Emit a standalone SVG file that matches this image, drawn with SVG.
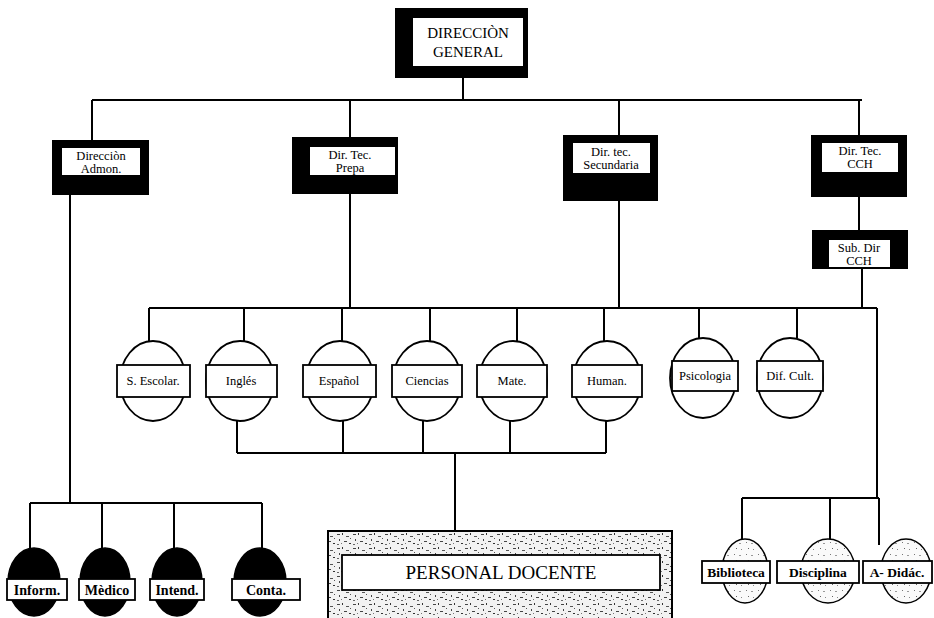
<svg xmlns="http://www.w3.org/2000/svg" width="934" height="618" viewBox="0 0 934 618">
<defs>
<pattern id="stip" width="16" height="14" patternUnits="userSpaceOnUse">
<rect width="16" height="14" fill="#f2f2f2"/>
<rect x="1" y="2" width="3" height="1" fill="#444"/>
<rect x="6" y="1" width="1" height="2" fill="#333"/>
<rect x="10" y="4" width="3" height="1" fill="#555"/>
<rect x="3" y="7" width="1" height="2" fill="#444"/>
<rect x="8" y="9" width="3" height="1" fill="#444"/>
<rect x="13" y="11" width="2" height="1" fill="#333"/>
<rect x="1" y="12" width="2" height="1" fill="#666"/>
<rect x="5" y="11" width="1" height="1" fill="#777"/>
<rect x="14" y="6" width="1" height="1" fill="#555"/>
</pattern>
<pattern id="stip2" width="12" height="12" patternUnits="userSpaceOnUse">
<rect width="12" height="12" fill="#fafafa"/>
<rect x="2" y="2" width="1" height="1" fill="#777"/>
<rect x="7" y="3" width="2" height="1" fill="#999"/>
<rect x="4" y="8" width="1" height="1" fill="#666"/>
<rect x="9" y="9" width="1" height="1" fill="#888"/>
</pattern>
</defs>
<style>
.ln{fill:none;stroke:#000;stroke-width:2}
.ob{fill:#000}
.ib{fill:#fff}
.t{font-family:"Liberation Serif","Times New Roman",serif;fill:#000;text-anchor:middle}
.s{font-size:12.5px}
.m{font-size:12.5px}
.b{font-size:14px;font-weight:bold}
.br{font-size:13.5px;font-weight:bold}
.ec{fill:#fff;stroke:#000;stroke-width:1.8}
.eb{fill:#000;stroke:#000;stroke-width:1.5}
.es{fill:url(#stip2);stroke:#000;stroke-width:1.5}
.rb{fill:#fff;stroke:#000;stroke-width:1.8}
</style>

<g id="connectors">
<path class="ln" d="M463 78V100M92 100H862M92 100V140M350 100V137M619 100V135M859 100V135"/>
<path class="ln" d="M859 197V230M862 269V308M350 194V308M619 201V308M149 308H877"/>
<path class="ln" d="M149 308V341M244 308V341M342 308V341M430 308V341M517 308V341M604 308V341M699 308V338M797 308V338"/>
<path class="ln" d="M237 421V453M343 421V453M423 421V453M510 421V453M606 421V453M237 453H606M455 453V531"/>
<path class="ln" d="M70 195V503M30 503H262M30 503V549M102 503V549M174 503V549M262 503V549"/>
<path class="ln" d="M877 308V498M742 498H879M742 498V540M830 498V540M879 498V545"/>
</g>

<g id="direccion-general">
<rect class="ob" x="395" y="8" width="133" height="70"/>
<rect class="ib" x="413" y="18" width="110" height="48"/>
<text class="t" x="468" y="38" font-size="15">DIRECCIÒN</text>
<text class="t" x="468" y="57" font-size="15">GENERAL</text>
</g>

<g id="direccion-admon">
<rect class="ob" x="52" y="140" width="97" height="55"/>
<rect class="ib" x="62" y="148" width="78" height="27"/>
<text class="t s" x="101" y="160">Direcciòn</text>
<text class="t s" x="101" y="173">Admon.</text>
</g>

<g id="dir-tec-prepa">
<rect class="ob" x="292" y="137" width="106" height="57"/>
<rect class="ib" x="310" y="147" width="85" height="28"/>
<text class="t s" x="350" y="159">Dir. Tec.</text>
<text class="t s" x="350" y="172">Prepa</text>
</g>

<g id="dir-tec-secundaria">
<rect class="ob" x="563" y="135" width="95" height="66"/>
<rect class="ib" x="573" y="143" width="77" height="30"/>
<text class="t s" x="611" y="156">Dir. tec.</text>
<text class="t s" x="611" y="169">Secundaria</text>
</g>

<g id="dir-tec-cch">
<rect class="ob" x="811" y="135" width="96" height="62"/>
<rect class="ib" x="822" y="143" width="76" height="29"/>
<text class="t s" x="860" y="155">Dir. Tec.</text>
<text class="t s" x="860" y="168">CCH</text>
</g>

<g id="sub-dir-cch">
<rect class="ob" x="812" y="230" width="96" height="39"/>
<rect class="ib" x="829" y="240" width="61" height="27"/>
<text class="t s" x="859" y="252">Sub. Dir</text>
<text class="t s" x="859" y="265">CCH</text>
</g>

<g id="s-escolar">
<ellipse class="ec" cx="153" cy="381" rx="33" ry="40"/>
<rect class="rb" x="117" y="365" width="73" height="32"/>
<text class="t m" x="153" y="385">S. Escolar.</text>
</g>
<g id="ingles">
<ellipse class="ec" cx="240" cy="381" rx="34" ry="40"/>
<rect class="rb" x="206" y="365" width="71" height="32"/>
<text class="t m" x="241" y="385">Inglés</text>
</g>
<g id="espanol">
<ellipse class="ec" cx="340" cy="381" rx="34" ry="40"/>
<rect class="rb" x="303" y="365" width="73" height="32"/>
<text class="t m" x="339" y="385">Español</text>
</g>
<g id="ciencias">
<ellipse class="ec" cx="427" cy="381" rx="34" ry="40"/>
<rect class="rb" x="392" y="365" width="70" height="32"/>
<text class="t m" x="427" y="385">Ciencias</text>
</g>
<g id="mate">
<ellipse class="ec" cx="513" cy="381" rx="34" ry="40"/>
<rect class="rb" x="477" y="365" width="70" height="32"/>
<text class="t m" x="512" y="385">Mate.</text>
</g>
<g id="human">
<ellipse class="ec" cx="607" cy="381" rx="34" ry="40"/>
<rect class="rb" x="572" y="365" width="70" height="32"/>
<text class="t m" x="607" y="385">Human.</text>
</g>
<g id="psicologia">
<ellipse class="ec" cx="703" cy="378" rx="33" ry="40"/>
<rect class="rb" x="672" y="361" width="66" height="30"/>
<text class="t m" x="705" y="380">Psicologia</text>
</g>
<g id="dif-cult">
<ellipse class="ec" cx="790" cy="378" rx="33" ry="40"/>
<rect class="rb" x="757" y="361" width="66" height="30"/>
<text class="t m" x="790" y="380">Dif. Cult.</text>
</g>

<g id="inform">
<ellipse class="eb" cx="34" cy="582" rx="26" ry="34"/>
<rect class="rb" x="7" y="579" width="60" height="21"/>
<text class="t b" x="37" y="595">Inform.</text>
</g>
<g id="medico">
<ellipse class="eb" cx="105" cy="582" rx="25" ry="34"/>
<rect class="rb" x="79" y="579" width="56" height="21"/>
<text class="t b" x="107" y="595">Mèdico</text>
</g>
<g id="intend">
<ellipse class="eb" cx="177" cy="582" rx="25" ry="34"/>
<rect class="rb" x="150" y="579" width="54" height="21"/>
<text class="t b" x="177" y="595">Intend.</text>
</g>
<g id="conta">
<ellipse class="eb" cx="260" cy="582" rx="26" ry="34"/>
<rect class="rb" x="232" y="579" width="68" height="21"/>
<text class="t b" x="266" y="595">Conta.</text>
</g>

<g id="personal-docente">
<rect x="328" y="531" width="344" height="90" fill="url(#stip)" stroke="#000" stroke-width="2"/>
<rect class="rb" x="342" y="555" width="318" height="35"/>
<text class="t" x="501" y="579" font-size="19">PERSONAL DOCENTE</text>
</g>

<g id="biblioteca">
<ellipse class="es" cx="745" cy="571" rx="23" ry="32"/>
<rect class="rb" x="702" y="561" width="68" height="22"/>
<text class="t br" x="736" y="577">Biblioteca</text>
</g>
<g id="disciplina">
<ellipse class="es" cx="828" cy="571" rx="27" ry="32"/>
<rect class="rb" x="777" y="561" width="82" height="22"/>
<text class="t br" x="818" y="577">Disciplina</text>
</g>
<g id="a-didac">
<ellipse class="es" cx="906" cy="571" rx="25" ry="32"/>
<rect class="rb" x="863" y="561" width="69" height="22"/>
<text class="t br" x="897" y="577">A- Didác.</text>
</g>
</svg>
